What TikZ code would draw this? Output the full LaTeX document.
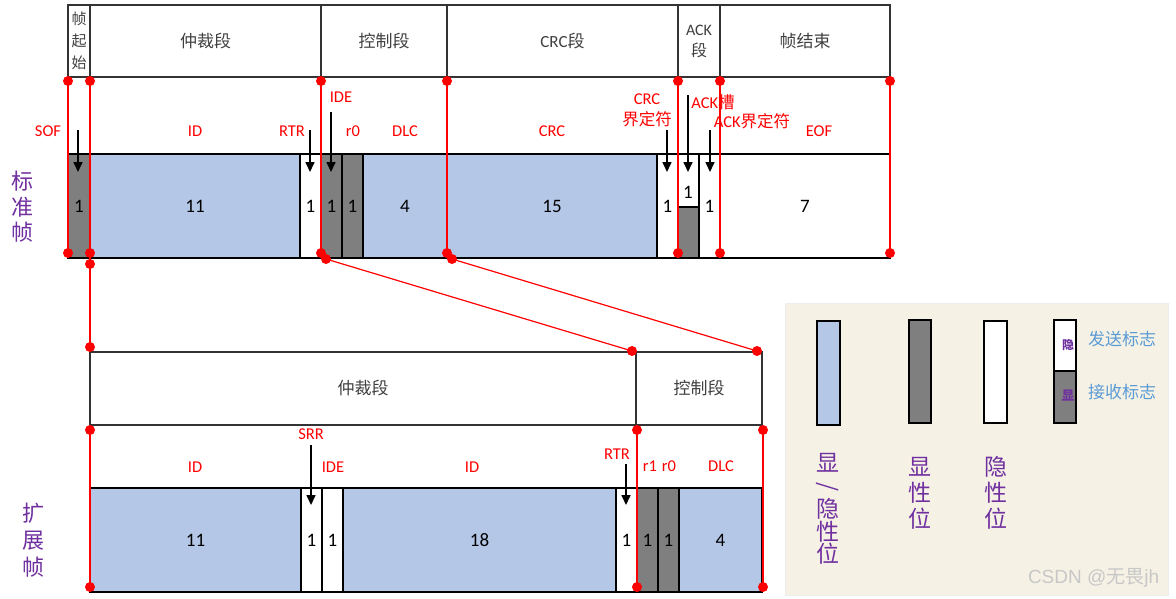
\documentclass[tikz,border=0pt]{standalone}
\usepackage{fontspec}
\setmainfont{Carlito}
\newfontfamily\cjk{Noto Sans CJK SC}
\newfontfamily\wmfont{Liberation Sans}
\usetikzlibrary{arrows.meta}
\definecolor{bitblue}{HTML}{B4C7E7}
\definecolor{bitgray}{HTML}{7F7F7F}
\definecolor{redl}{HTML}{FF0000}
\definecolor{purp}{HTML}{7030A0}
\definecolor{legblue}{HTML}{5B9BD5}
\definecolor{legbg}{HTML}{F5F2E5}
\definecolor{hdrtext}{HTML}{404040}
\newcommand\mkbox[7]{\node[#6, anchor=north west, minimum width=#3pt-#2pt, minimum height=#5pt-#4pt] (#1) at (#2,#4) {#7};}
\begin{document}
\begin{tikzpicture}[x=1pt,y=-1pt,inner sep=0pt,outer sep=0pt,
  hdr/.style={draw=black!80,line width=1.3pt,fill=white,text=hdrtext,font=\fontsize{17}{20}\selectfont,align=center},
  bitb/.style={draw=black,line width=1.8pt,fill=bitblue,font=\fontsize{19}{22}\selectfont},
  bitg/.style={bitb,fill=bitgray},
  bitw/.style={bitb,fill=white},
  lbl/.style={text=redl,font=\fontsize{16.5}{20}\selectfont},
  clbl/.style={text=redl,font=\fontsize{16.5}{21}\selectfont,align=center},
  side/.style={text=purp,align=center},
  rl/.style={draw=redl,line width=1.2pt},
  arr/.style={draw=black,line width=1.6pt,-{Triangle[width=9pt,length=10pt]}},
  legbar/.style={draw=black,line width=2pt},
]
\useasboundingbox (0,0) rectangle (1176,598);
\fill[white] (0,0) rectangle (1176,598);

% ---------- standard frame: header ----------
\mkbox{hSOF}{68}{90}{5}{77}{hdr,font=\cjk\fontsize{15}{22}\selectfont}{帧\\起\\始}
\mkbox{hARB}{90}{321}{5}{77}{hdr}{\cjk 仲裁段}
\mkbox{hCTL}{321}{447}{5}{77}{hdr}{\cjk 控制段}
\mkbox{hCRC}{447}{678}{5}{77}{hdr}{CRC{\cjk 段}}
\mkbox{hACK}{678}{720}{5}{77}{hdr,font=\fontsize{16}{21}\selectfont}{ACK\\{\cjk 段}}
\mkbox{hEOF}{720}{890}{5}{77}{hdr}{\cjk 帧结束}

% ---------- standard frame: bits ----------
\mkbox{bSOF}{68}{90}{154}{258}{bitg}{1}
\mkbox{bID}{90}{300}{154}{258}{bitb}{11}
\mkbox{bRTR}{300}{321}{154}{258}{bitw}{1}
\mkbox{bIDE}{321}{342}{154}{258}{bitg}{1}
\mkbox{bRz}{342}{363}{154}{258}{bitg}{1}
\mkbox{bDLC}{363}{447}{154}{258}{bitb}{4}
\mkbox{bCRC}{447}{657}{154}{258}{bitb}{15}
\mkbox{bCRCD}{657}{678}{154}{258}{bitw}{1}
\mkbox{bACKw}{678}{699}{154}{207}{bitw}{}
\mkbox{bACKg}{678}{699}{207}{258}{bitg}{}
\node[font=\fontsize{19}{22}\selectfont] (nACK) at (688,192) {1};
\mkbox{bACKD}{699}{720}{154}{258}{bitw}{1}
\mkbox{bEOF}{720}{890}{154}{258}{bitw}{7}

% ---------- standard frame: red labels ----------
\node[lbl] (lSOF) at (48,131) {SOF};
\node[lbl] (lID) at (195,131) {ID};
\node[lbl] (lRTR) at (292,131) {RTR};
\node[lbl] (lIDE) at (341,97) {IDE};
\node[lbl] (lRz) at (353,131) {r0};
\node[lbl] (lDLC) at (405,131) {DLC};
\node[lbl] (lCRC) at (552,131) {CRC};
\node[clbl] (lCRCD) at (647,110) {CRC\\{\cjk 界定符}};
\node[lbl] (lACK) at (713,102) {ACK{\cjk 槽}};
\node[lbl] (lACKD) at (752,121) {ACK{\cjk 界定符}};
\node[lbl] (lEOF) at (819,131) {EOF};

% ---------- standard frame: arrows ----------
\coordinate (aSOF1) at (78,130); \coordinate (aSOF2) at (78,172);
\coordinate (aRTR1) at (310,130); \coordinate (aRTR2) at (310,172);
\coordinate (aIDE1) at (331,112); \coordinate (aIDE2) at (331,172);
\coordinate (aCRCD1) at (667,130); \coordinate (aCRCD2) at (667,172);
\coordinate (aACK1) at (688,95); \coordinate (aACK2) at (688,172);
\coordinate (aACKD1) at (710,130); \coordinate (aACKD2) at (710,172);
\foreach \a in {SOF,RTR,IDE,CRCD,ACK,ACKD} \draw[arr] (a\a1) -- (a\a2);

% ---------- side label ----------
\node[side,font=\cjk\fontsize{22}{25.5}\selectfont] (sStd) at (22,207) {标\\准\\帧};

% ---------- extended frame: header ----------
\mkbox{eARB}{90}{636}{352}{425}{hdr}{\cjk 仲裁段}
\mkbox{eCTL}{636}{762}{352}{425}{hdr}{\cjk 控制段}

% ---------- extended frame: bits ----------
\mkbox{eIDa}{90}{301}{488}{592}{bitb}{11}
\mkbox{eSRR}{301}{322}{488}{592}{bitw}{1}
\mkbox{eIDE}{322}{343}{488}{592}{bitw}{1}
\mkbox{eIDb}{343}{616}{488}{592}{bitb}{18}
\mkbox{eRTR}{616}{637}{488}{592}{bitw}{1}
\mkbox{eRo}{637}{658}{488}{592}{bitg}{1}
\mkbox{eRz}{658}{679}{488}{592}{bitg}{1}
\mkbox{eDLC}{679}{762}{488}{592}{bitb}{4}

% ---------- extended frame: red labels ----------
\node[lbl] (mIDa) at (195,467) {ID};
\node[lbl] (mSRR) at (311,434) {SRR};
\node[lbl] (mIDE) at (333,467) {IDE};
\node[lbl] (mIDb) at (472,467) {ID};
\node[lbl] (mRTR) at (617,454) {RTR};
\node[lbl] (mRo) at (650,466) {r1};
\node[lbl] (mRz) at (669,466) {r0};
\node[lbl] (mDLC) at (721,466) {DLC};

\coordinate (aSRR1) at (311,445); \coordinate (aSRR2) at (311,505);
\coordinate (aERTR1) at (626,464); \coordinate (aERTR2) at (626,505);
\draw[arr] (aSRR1) -- (aSRR2);
\draw[arr] (aERTR1) -- (aERTR2);

\node[side,font=\cjk\fontsize{22}{27}\selectfont] (sExt) at (33,540) {扩\\展\\帧};

% ---------- red guide lines and dots ----------
\foreach \i/\x in {1/68,2/90,3/321,4/447,5/678,6/720,7/890}{
  \coordinate (t\i) at (\x,81);
  \coordinate (u\i) at (\x,253);
}
\coordinate (s1) at (90,264);
\coordinate (s2) at (326,259);
\coordinate (s3) at (452,259);
\coordinate (e1) at (90,347);
\coordinate (e2) at (632,351);
\coordinate (e3) at (757,351);
\coordinate (f1) at (90,430); \coordinate (g1) at (90,587);
\coordinate (f2) at (637,430); \coordinate (g2) at (637,587);
\coordinate (f3) at (763,430); \coordinate (g3) at (763,587);
\foreach \i in {1,...,7} \draw[rl] (t\i) -- (u\i);
\draw[rl] (u2) -- (s1) -- (e1);
\draw[rl] (s2) -- (e2);
\draw[rl] (s3) -- (e3);
\foreach \i in {1,2,3} \draw[rl] (f\i) -- (g\i);
\foreach \c in {t1,t2,t3,t4,t5,t6,t7,u1,u2,u3,u4,u5,u6,u7,s1,s2,s3,e1,e2,e3,f1,f2,f3,g1,g2,g3}
  \fill[redl] (\c) circle (5pt);

% ---------- legend ----------
\node[draw=legbg!80!black!30,fill=legbg,line width=0.6pt,anchor=north west,minimum width=383pt,minimum height=292pt] (legend) at (785,303) {};
\mkbox{kBlue}{817}{840}{321}{425}{legbar,fill=bitblue}{}
\mkbox{kGray}{909}{931}{320}{423}{legbar,fill=bitgray}{}
\mkbox{kWhite}{984}{1007}{321}{423}{legbar,fill=white}{}
\mkbox{kSend}{1054}{1076}{320}{371}{legbar,fill=white}{}
\mkbox{kRecv}{1054}{1076}{371}{423}{legbar,fill=bitgray}{}
\node[text=purp,font=\cjk\bfseries\fontsize{12}{14}\selectfont] (kS) at (1068,345) {隐};
\node[text=purp,font=\cjk\bfseries\fontsize{13}{15}\selectfont] (kR) at (1068,396) {显};
\node[text=legblue,font=\cjk\fontsize{17}{18}\selectfont] (kSt) at (1122,339) {发送标志};
\node[text=legblue,font=\cjk\fontsize{17}{18}\selectfont] (kRt) at (1122,392) {接收标志};
\node[side,font=\cjk\fontsize{23}{22.8}\selectfont] (kBl) at (828,509) {显\\\rotatebox[origin=c]{-90}{/}\\隐\\性\\位};
\node[side,font=\cjk\fontsize{23}{26}\selectfont] (kGl) at (920,493) {显\\性\\位};
\node[side,font=\cjk\fontsize{23}{26}\selectfont] (kWl) at (996,493) {隐\\性\\位};
\node[anchor=west,text=black!22,font=\fontsize{19}{22}\selectfont] (wm) at (1028,578) {{\wmfont CSDN @}{\cjk 无畏}{\wmfont jh}};
\end{tikzpicture}
\end{document}
